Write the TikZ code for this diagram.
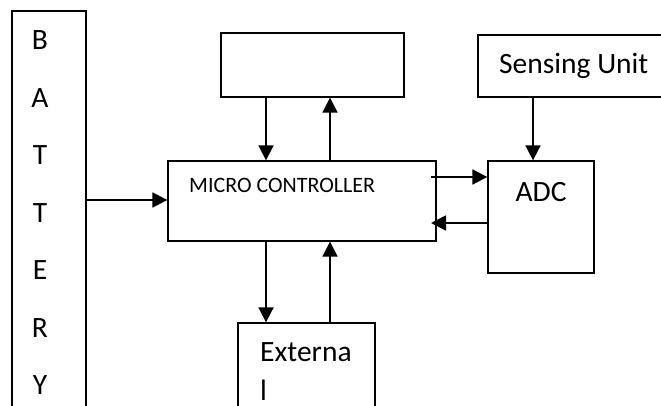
\documentclass[tikz,border=0pt]{standalone}
\usepackage{fontspec}
\setmainfont{Carlito}
\usetikzlibrary{arrows.meta}
\begin{document}
\begin{tikzpicture}[x=1pt,y=-1pt,
  blk/.style={draw,line width=1.3pt,rectangle,inner sep=0pt},
  conn/.style={line width=1.8pt,-{Triangle[length=15pt,width=15pt]}},
  big/.style={font=\fontsize{29.5}{34}\selectfont,anchor=base,inner sep=0pt},
  small/.style={font=\fontsize{22}{25}\selectfont,anchor=base west,inner sep=0pt}]
\useasboundingbox (0,0) rectangle (661,406);
% boxes
\node[blk,minimum width=74pt,minimum height=410pt] (bat) at (49,216) {};
\node[blk,minimum width=183pt,minimum height=64pt] (top) at (312.5,65) {};
\node[blk,minimum width=268pt,minimum height=80pt] (mc) at (302,201) {};
\node[blk,minimum width=106pt,minimum height=112pt] (adc) at (541,217) {};
\node[blk,minimum width=192pt,minimum height=62pt] (sens) at (574,66) {};
\node[blk,minimum width=137pt,minimum height=100pt] (ext) at (306.5,373) {};
% texts
\foreach \l [count=\i from 0] in {B,A,T,T,E,R,Y}
  \node[big] (b\i) at (40,50+57.4*\i) {\l};
\node[small] (mct) at (189,193) {MICRO CONTROLLER};
\node[big,anchor=base west] (st) at (499,74) {Sensing Unit};
\node[big] (at) at (541,202) {ADC};
\node[big,anchor=base west] (et1) at (260,361) {Externa};
\node[big,anchor=base west] (et2) at (260,400) {l};
% connector x/y positions
\coordinate (xa) at (266,0);
\coordinate (xb) at (330,0);
\coordinate (xs) at (533,0);
\coordinate (yb) at (0,200);
\coordinate (y1) at (0,177);
\coordinate (y2) at (0,223);
\coordinate (xin) at (431,0);
% connectors
\draw[conn] (top.south -| xa) -- (mc.north -| xa);
\draw[conn] (mc.north -| xb) -- (top.south -| xb);
\draw[conn] (mc.south -| xa) -- (ext.north -| xa);
\draw[conn] (ext.north -| xb) -- (mc.south -| xb);
\draw[conn] (bat.east |- yb) -- (mc.west |- yb);
\draw[conn] (sens.south -| xs) -- (adc.north -| xs);
\draw[conn] (xin |- y1) -- (adc.west |- y1);
\draw[conn] (adc.west |- y2) -- (xin |- y2);
\end{tikzpicture}
\end{document}
